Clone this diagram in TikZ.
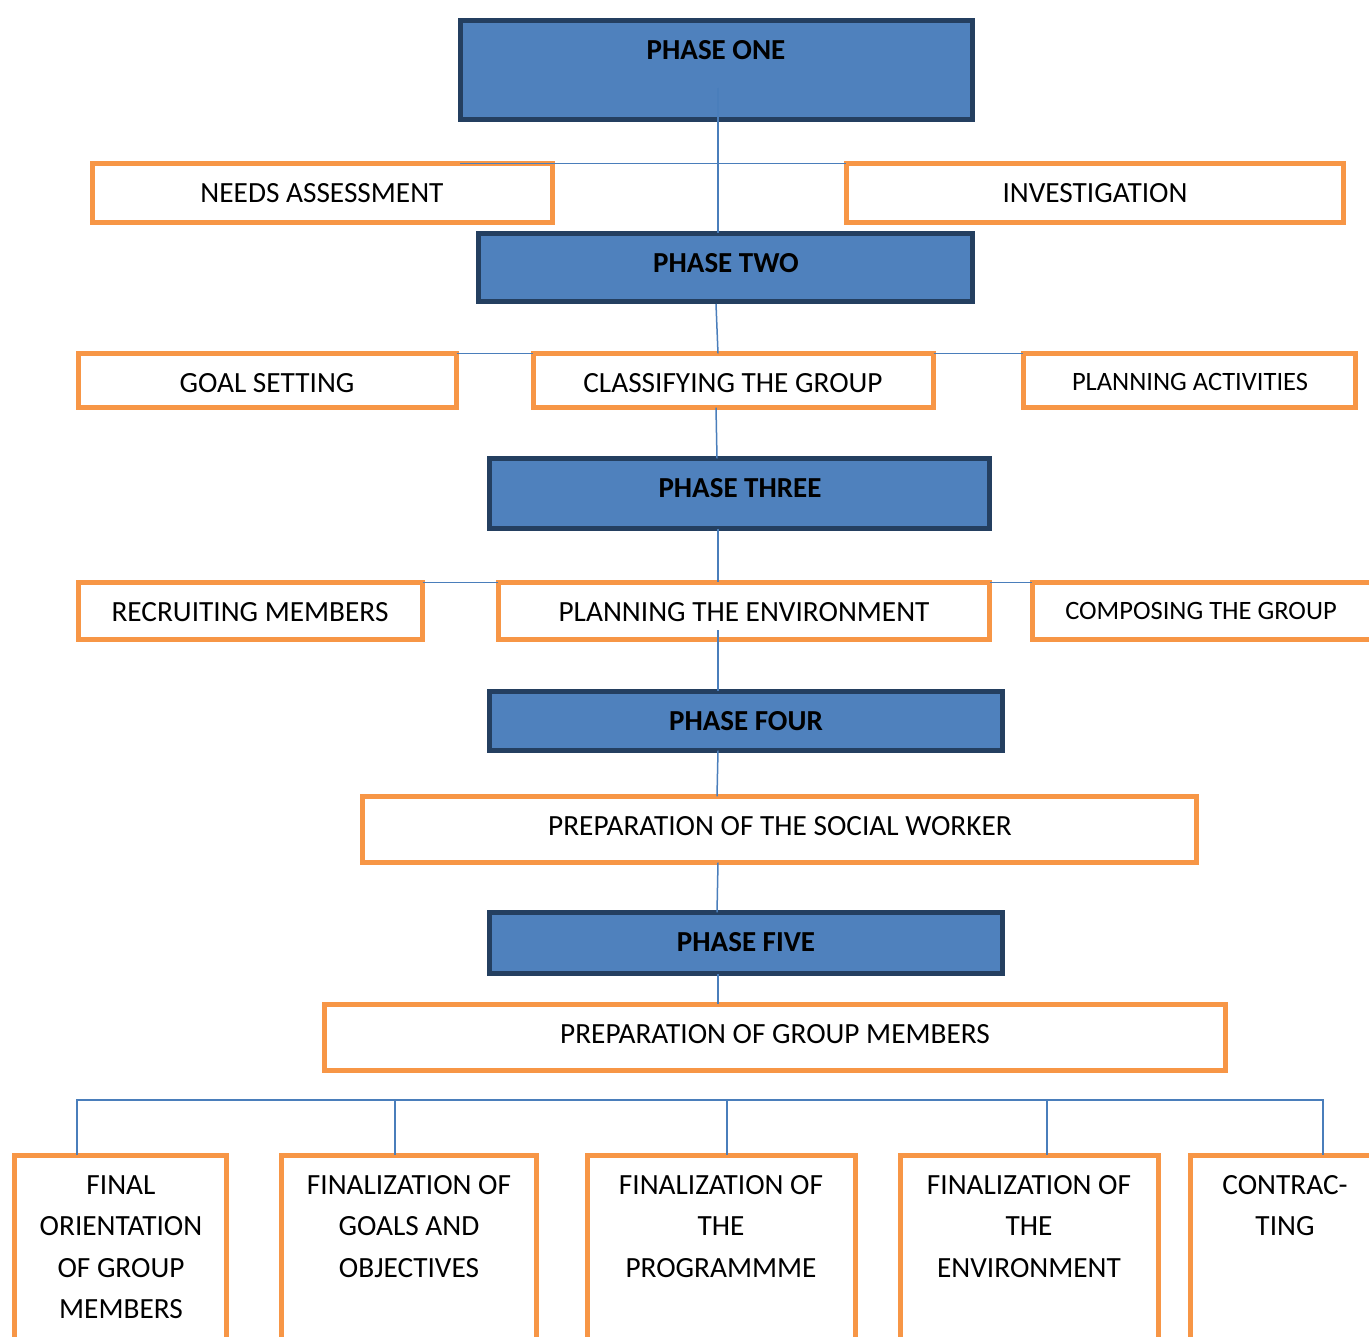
\documentclass[tikz,border=0pt]{standalone}
\usepackage{fontspec}
\setmainfont{Carlito}
\definecolor{pfill}{HTML}{4F81BD}
\definecolor{pline}{HTML}{243F60}
\definecolor{oline}{HTML}{F79646}
\definecolor{cline}{HTML}{4A7EBB}
\newcommand\mkbox[6]{\node[#1, minimum width={#4-#2-4.8}, minimum height={#5-#3-4.8}] (#6) at ({(#2+#4)/2},{(#3+#5)/2}) {};}
\begin{document}
\begin{tikzpicture}[x=1pt,y=-1pt,
  phasebox/.style={draw=pline, fill=pfill, line width=5.3pt, inner sep=0pt, outer sep=0pt, rectangle},
  obox/.style={draw=oline, fill=white, line width=4.5pt, inner sep=0pt, outer sep=0pt, rectangle},
  conn/.style={draw=cline, line width=1.5pt},
  txt/.style={inner sep=0pt, anchor=base, font=\fontsize{29.3}{41.5}\selectfont, align=center},
  btxt/.style={txt, font=\bfseries\fontsize{29}{41.5}\selectfont},
  stxt/.style={txt, font=\fontsize{26.5}{32}\selectfont}]
\useasboundingbox (0,0) rectangle (1369,1337);
\clip (0,0) rectangle (1369,1337);
% boxes
\mkbox{phasebox}{458}{18}{975}{122}{p1}
\mkbox{obox}{90}{161}{555}{225}{needs}
\mkbox{obox}{844}{161}{1346}{225}{inv}
\mkbox{phasebox}{476}{231}{975}{304}{p2}
\mkbox{obox}{76}{351}{459}{410}{goal}
\mkbox{obox}{531}{351}{936}{410}{cls}
\mkbox{obox}{1021}{351}{1358}{410}{plan}
\mkbox{phasebox}{487}{456}{992}{531}{p3}
\mkbox{obox}{76}{580}{425}{642}{rec}
\mkbox{obox}{496}{580}{992}{642}{env}
\mkbox{obox}{1030}{580}{1390}{642}{comp}
\mkbox{phasebox}{487}{689}{1005}{753}{p4}
\mkbox{obox}{360}{794}{1199}{865}{sw}
\mkbox{phasebox}{487}{910}{1005}{976}{p5}
\mkbox{obox}{322}{1002}{1228}{1073}{gm}
\mkbox{obox}{12}{1153}{229}{1380}{b1}
\mkbox{obox}{279}{1153}{539}{1380}{b2}
\mkbox{obox}{585}{1153}{858}{1380}{b3}
\mkbox{obox}{898}{1153}{1161}{1380}{b4}
\mkbox{obox}{1188}{1153}{1400}{1380}{b5}
% connectors
\coordinate (c1) at (718,88);
\draw[conn] (c1) -- (c1 |- p2.north);
\draw[conn] (p1.south west |- inv.north) -- (inv.north west);
\draw[conn] (716,304) -- (718,0 |- cls.north);
\draw[conn] (goal.north east) -- (cls.north west);
\draw[conn] (cls.north east) -- (plan.north west);
\draw[conn] (716,0 |- cls.south) -- (717,0 |- p3.north);
\draw[conn] (718,0 |- p3.south) -- (718,0 |- env.north);
\draw[conn] (rec.north east) -- (env.north west);
\draw[conn] (env.north east) -- (comp.north west);
\coordinate (c2) at (718,630);
\draw[conn] (c2) -- (c2 |- p4.north);
\draw[conn] (718,0 |- p4.south) -- (717,0 |- sw.north);
\draw[conn] (718,0 |- sw.south) -- (717,0 |- p5.north);
\draw[conn] (718,0 |- p5.south) -- (718,0 |- gm.north);
\coordinate (hl) at (77,1100);
\coordinate (hr) at (1323,1100);
\draw[conn] (77,0 |- b1.north) -- (hl) -- (hr) -- (1323,0 |- b5.north);
\draw[conn] (395,1100) -- (395,0 |- b2.north);
\draw[conn] (727,1100) -- (727,0 |- b3.north);
\draw[conn] (1047,1100) -- (1047,0 |- b4.north);
% texts (base = visual centre + 9.3)
\node[btxt] (t1) at (716,59.3) {PHASE ONE};
\node[txt] (t2) at (322,202.3) {NEEDS ASSESSMENT};
\node[txt] (t3) at (1095,202.3) {INVESTIGATION};
\node[btxt] (t4) at (726,272.3) {PHASE TWO};
\node[txt] (t5) at (267,392.3) {GOAL SETTING};
\node[txt] (t6) at (733,392.3) {CLASSIFYING THE GROUP};
\node[stxt] (t7) at (1190,390.5) {PLANNING ACTIVITIES};
\node[btxt] (t8) at (740,497.3) {PHASE THREE};
\node[txt] (t9) at (250,621.3) {RECRUITING MEMBERS};
\node[txt] (t10) at (744,621.3) {PLANNING THE ENVIRONMENT};
\node[stxt] (t11) at (1201,619.5) {COMPOSING THE GROUP};
\node[btxt] (t12) at (746,730.3) {PHASE FOUR};
\node[txt] (t13) at (780,835.3) {PREPARATION OF THE SOCIAL WORKER};
\node[btxt] (t14) at (746,951.3) {PHASE FIVE};
\node[txt] (t15) at (775,1043.3) {PREPARATION OF GROUP MEMBERS};
% multi-line: base anchor is the last line
\node[txt] (t16) at (121,1318.8) {FINAL\\ORIENTATION\\OF GROUP\\MEMBERS};
\node[txt] (t17) at (409,1277.3) {FINALIZATION OF\\GOALS AND\\OBJECTIVES};
\node[txt] (t18) at (721,1277.3) {FINALIZATION OF\\THE\\PROGRAMMME};
\node[txt] (t19) at (1029,1277.3) {FINALIZATION OF\\THE\\ENVIRONMENT};
\node[txt] (t20) at (1285,1235.8) {CONTRAC-\\TING};
\end{tikzpicture}
\end{document}
